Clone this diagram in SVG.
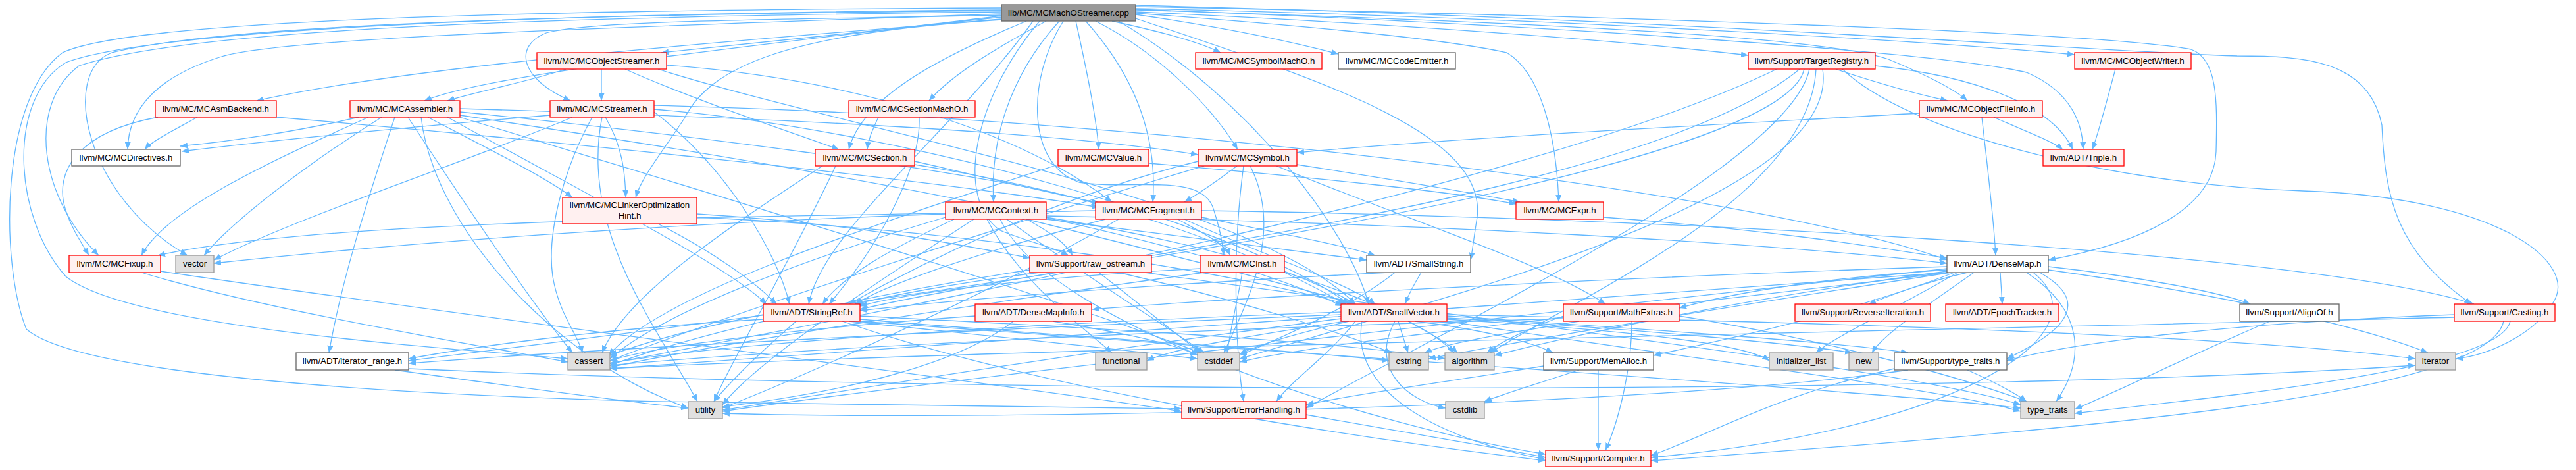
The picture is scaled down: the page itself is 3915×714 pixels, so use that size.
<svg xmlns="http://www.w3.org/2000/svg" width="3915" height="714" viewBox="0 0 3915 714">
<defs>
<marker id="a" markerUnits="userSpaceOnUse" markerWidth="11" markerHeight="9" refX="11" refY="4.5" orient="auto"><path d="M0,0 L11,4.5 L0,9 z" fill="#63b8ff"/></marker>
<style>
.e path{fill:none;stroke:#63b8ff;stroke-width:1.3;marker-end:url(#a)}
.n rect{stroke-width:1.3}
.r rect{fill:#fff0f0;stroke:#ff0000}
.g rect{fill:#e0e0e0;stroke:#999999}
.w rect{fill:#ffffff;stroke:#666666}
.m rect{fill:#999999;stroke:#666666}
.n text{font-family:"Liberation Sans",Arial,Helvetica,sans-serif;font-size:13.3px;text-anchor:middle;fill:#000000}
</style>
</defs>
<rect width="3915" height="714" fill="#ffffff"/>
<g id="edges" class="e">
<!-- main -->
<path d="M1522,26 C1350,45 1150,65 1005,80"/>
<path d="M1522,29 C1150,60 650,95 390,153"/>
<path d="M1522,24 C1150,70 750,110 645,153"/>
<path d="M1522,21 C1000,40 450,55 340,85 C240,115 195,165 194,227"/>
<path d="M1522,18 C900,25 300,40 120,100 C40,160 60,300 150,388"/>
<path d="M1522,16 C900,22 350,35 170,80 C90,110 130,300 285,388"/>
<path d="M1522,15 C900,20 250,40 100,95 C10,150 20,330 100,420 C200,500 700,530 863,545"/>
<path d="M1522,12 C800,15 200,30 95,80 C0,150 0,400 40,500 C120,570 600,600 1000,610 C1400,615 1700,618 1796,621"/>
<path d="M1590,32 C1520,70 1450,110 1412,153"/>
<path d="M1610,32 C1530,120 1505,220 1510,307"/>
<path d="M1635,32 C1650,100 1665,170 1670,227"/>
<path d="M1650,32 C1720,110 1760,200 1752,307"/>
<path d="M1665,32 C1760,80 1840,160 1881,227"/>
<path d="M1690,32 C1750,45 1820,62 1855,80"/>
<path d="M1560,32 C1420,90 1310,150 1290,227"/>
<path d="M1522,30 C1200,50 1080,100 1040,180 C1000,240 975,270 966,300"/>
<path d="M1616,32 C1560,120 1560,250 1640,277 C1720,290 1830,260 1845,320 C1855,350 1858,370 1860,388"/>
<path d="M1580,32 C1480,150 1450,300 1520,350 C1570,370 1600,375 1624,388"/>
<path d="M1726,20 C2000,40 2200,60 2290,80 C2340,110 2365,200 2369,307"/>
<path d="M1726,22 C1850,40 1950,60 2034,82"/>
<path d="M1726,18 C2100,35 2450,60 2657,84"/>
<path d="M1726,15 C2200,30 2750,50 2870,90 C2930,115 2970,135 2990,153"/>
<path d="M1726,13 C2300,25 2900,60 3153,83"/>
<path d="M1726,14 C2400,40 2950,80 3080,110 C3150,140 3165,190 3166,227"/>
<path d="M1726,10 C2500,25 3200,50 3330,75 C3370,90 3370,150 3368,230 C3365,320 3250,370 3113,395"/>
<path d="M1726,8 C2600,30 3200,80 3400,85 C3500,85 3600,90 3620,190 C3625,300 3640,380 3756,462"/>
<path d="M1700,32 C1900,150 2050,350 2080,462"/>
<path d="M1726,28 C2000,120 2260,200 2245,330 C2240,360 2238,380 2235,395"/>
<path d="M1570,32 C1450,200 1250,350 1229,462"/>
<path d="M1522,23 C1200,30 900,30 830,50 C780,70 790,120 867,153"/>
<!-- MCObjectStreamer -->
<path d="M860,105 C800,125 720,140 680,153"/>
<path d="M914,105 L914,153"/>
<path d="M950,105 C1050,150 1200,200 1275,227"/>
<path d="M1013,99 C1300,120 1550,200 1690,307"/>
<path d="M1000,105 C1300,200 1900,300 2060,462"/>
<!-- MCStreamer -->
<path d="M836,175 C600,195 400,215 276,230"/>
<path d="M920,178 C945,220 950,260 951,300"/>
<path d="M870,178 C700,250 450,330 325,395"/>
<path d="M900,178 C860,250 830,350 840,420 C850,480 880,510 885,536"/>
<path d="M915,178 C880,350 1000,500 1060,610"/>
<path d="M994,170 C1100,250 1180,380 1200,462"/>
<path d="M994,166 C1400,200 1900,350 2050,462"/>
<path d="M994,160 C1800,180 2700,300 2959,395"/>
<!-- MCAssembler -->
<path d="M545,178 C450,200 350,215 274,222"/>
<path d="M560,178 C400,250 250,320 215,388"/>
<path d="M580,178 C450,260 350,340 310,388"/>
<path d="M600,178 C560,300 520,420 500,536"/>
<path d="M650,178 C750,230 830,270 870,300"/>
<path d="M699,170 C1000,200 1500,260 1670,310"/>
<path d="M699,165 C1200,180 1600,200 1821,235"/>
<path d="M680,178 C900,300 1100,400 1165,462"/>
<path d="M699,175 C1200,250 1800,350 2040,465"/>
<path d="M620,178 C700,300 800,450 870,536"/>
<path d="M699,178 C1100,300 1600,450 1825,536"/>
<path d="M640,178 C660,350 850,550 1046,620"/>
<!-- MCAsmBackend -->
<path d="M300,178 C260,200 230,215 220,227"/>
<path d="M240,178 C120,200 80,260 100,320 C110,350 125,370 135,388"/>
<path d="M420,178 C800,210 1400,270 1670,315"/>
<!-- MCSectionMachO -->
<path d="M1335,178 C1325,200 1320,210 1318,227"/>
<path d="M1397,178 C1400,260 1330,380 1260,462"/>
<!-- MCSection -->
<path d="M1390,245 C1500,270 1600,295 1670,308"/>
<path d="M1390,250 C1700,300 1900,380 2045,462"/>
<path d="M1250,252 C1100,350 950,450 915,536"/>
<path d="M1270,252 C1200,400 1110,550 1085,610"/>
<!-- MCValue -->
<path d="M1746,248 C2000,270 2200,290 2304,310"/>
<path d="M1608,250 C1300,350 1000,450 925,540"/>
<!-- MCSymbol -->
<path d="M1880,252 C1850,275 1820,295 1800,307"/>
<path d="M1971,250 C2100,270 2220,290 2310,307"/>
<path d="M1821,245 C1600,300 1400,400 1290,462"/>
<path d="M1890,252 C1870,400 1880,550 1890,610"/>
<path d="M1940,252 C2100,320 2350,400 2440,462"/>
<path d="M1830,252 C1500,350 1100,480 927,548"/>
<path d="M1900,252 C1950,350 1900,450 1860,536"/>
<!-- MCObjectFileInfo -->
<path d="M3030,178 C3080,200 3120,215 3135,227"/>
<path d="M2917,172 C2600,190 2200,210 1971,232"/>
<path d="M3012,178 C3020,250 3030,330 3033,388"/>
<!-- TargetRegistry -->
<path d="M2790,105 C2850,125 2900,140 2960,153"/>
<path d="M2850,100 C3000,115 3120,160 3150,227"/>
<path d="M2735,105 C2500,300 1600,400 1307,470"/>
<path d="M2742,105 C2700,300 1000,500 621,548"/>
<path d="M2750,105 C2720,250 2200,500 1985,620"/>
<path d="M2760,105 C2750,300 2400,450 2265,536"/>
<path d="M2700,105 C2300,300 1200,500 927,552"/>
<path d="M2770,105 C2800,300 2200,450 1884,545"/>
<path d="M2800,105 C2900,200 3200,280 3500,290 C3800,300 3920,400 3880,460 C3850,510 3780,540 3732,545"/>
<!-- MCObjectWriter -->
<path d="M3215,105 C3200,160 3190,200 3180,227"/>
<!-- MCContext -->
<path d="M1590,328 C2200,340 2700,370 2959,400"/>
<path d="M1590,333 C1800,360 1950,380 2077,395"/>
<path d="M1560,333 C1750,380 1950,430 2060,462"/>
<path d="M1450,333 C1350,380 1280,420 1250,462"/>
<path d="M1520,333 C1600,500 2100,650 2349,690"/>
<path d="M1560,333 C1600,355 1620,370 1630,388"/>
<path d="M1590,330 C1900,380 2150,470 2210,536"/>
<path d="M1437,330 C1200,400 1000,480 927,545"/>
<path d="M1530,333 C1650,420 1780,500 1830,536"/>
<path d="M1500,333 C1550,430 1650,500 1690,536"/>
<path d="M1480,333 C1300,450 1150,550 1098,615"/>
<path d="M1437,325 C1000,340 600,370 325,400"/>
<!-- MCFragment -->
<path d="M1826,330 C1950,355 2050,375 2090,388"/>
<path d="M1800,333 C1900,380 2050,430 2090,462"/>
<path d="M1680,333 C1500,380 1350,430 1300,462"/>
<path d="M1665,320 C1200,330 500,330 240,388"/>
<path d="M1790,333 C1830,355 1860,370 1870,388"/>
<path d="M1826,320 C2500,330 3500,380 3760,462"/>
<path d="M1700,333 C1500,450 1200,580 1098,620"/>
<!-- MCExpr -->
<path d="M2437,330 C2700,350 2850,375 2959,392"/>
<!-- LinkerOptimizationHint -->
<path d="M1059,330 C1500,350 1900,420 2045,462"/>
<path d="M1059,325 C1300,340 1450,370 1565,392"/>
<path d="M1000,340 C1080,380 1150,430 1180,462"/>
<!-- MCFixup -->
<path d="M244,412 C700,480 1500,580 1796,625"/>
<path d="M215,414 C400,470 700,520 863,550"/>
<!-- raw_ostream -->
<path d="M1580,414 C1450,430 1350,450 1300,462"/>
<path d="M1565,410 C1300,450 1050,510 927,555"/>
<path d="M1670,414 C1730,460 1790,510 1825,536"/>
<path d="M1700,414 C1900,460 2050,510 2115,536"/>
<path d="M1740,414 C2200,480 2900,560 3071,615"/>
<!-- MCInst -->
<path d="M1952,412 C2000,430 2040,450 2060,462"/>
<path d="M1824,408 C1600,420 1400,440 1307,465"/>
<path d="M1830,414 C1500,460 1100,520 927,558"/>
<path d="M1888,414 C1880,460 1870,500 1865,536"/>
<!-- SmallString -->
<path d="M2160,414 C2150,430 2140,450 2135,462"/>
<path d="M2110,414 C1800,430 1500,450 1307,472"/>
<path d="M2120,414 C2050,470 1930,520 1884,540"/>
<!-- DenseMap -->
<path d="M2959,405 C2500,420 1900,450 1660,470"/>
<path d="M3040,414 L3043,462"/>
<path d="M2990,414 C2920,430 2870,450 2840,462"/>
<path d="M3113,405 C3250,420 3380,445 3420,462"/>
<path d="M2959,410 C2800,420 2650,440 2552,468"/>
<path d="M3090,414 C3200,500 3000,650 2509,695"/>
<path d="M2970,414 C2800,480 2600,520 2513,540"/>
<path d="M3100,414 C3200,470 3100,520 3050,545"/>
<path d="M2959,412 C2600,460 2350,520 2271,540"/>
<path d="M2960,414 C2400,460 1400,520 927,560"/>
<path d="M2962,414 C2500,470 2000,520 1884,550"/>
<path d="M2965,414 C2600,470 2300,520 2171,545"/>
<path d="M2975,414 C2880,470 2790,510 2760,536"/>
<path d="M3113,410 C3400,450 3600,500 3690,536"/>
<path d="M3000,414 C2920,470 2860,510 2845,536"/>
<path d="M3080,414 C3180,480 3160,560 3125,610"/>
<path d="M2960,408 C2300,480 1400,580 1098,625"/>
<!-- StringRef -->
<path d="M1160,485 C900,500 700,530 621,545"/>
<path d="M1280,488 C1600,600 2100,670 2349,700"/>
<path d="M1307,480 C1700,500 2050,520 2196,545"/>
<path d="M1160,478 C1050,500 980,520 927,540"/>
<path d="M1290,488 C1500,510 1700,530 1820,545"/>
<path d="M1307,485 C1600,510 1950,530 2111,548"/>
<path d="M1307,488 C2000,540 2800,590 3071,620"/>
<path d="M1210,488 C1150,540 1110,580 1085,610"/>
<!-- DenseMapInfo -->
<path d="M1482,480 C1200,500 1000,525 927,548"/>
<path d="M1600,488 C1700,505 1780,520 1820,540"/>
<path d="M1540,488 C1450,560 1250,600 1098,618"/>
<!-- SmallVector -->
<path d="M2038,478 C1500,500 900,530 621,552"/>
<path d="M2070,488 C2050,600 2200,670 2349,698"/>
<path d="M2060,488 C2020,540 1960,580 1940,610"/>
<path d="M2150,488 C2250,500 2330,520 2360,536"/>
<path d="M2199,480 C2500,500 2800,520 2900,536"/>
<path d="M2140,488 C2170,505 2200,520 2215,536"/>
<path d="M2038,474 C1600,490 1100,520 927,552"/>
<path d="M2050,488 C1980,505 1920,520 1884,538"/>
<path d="M2120,488 C2080,560 2140,610 2197,620"/>
<path d="M2125,488 C2130,505 2135,520 2140,536"/>
<path d="M2045,488 C1900,510 1780,530 1743,548"/>
<path d="M2199,485 C2450,500 2650,520 2689,548"/>
<path d="M2199,478 C2800,490 3400,510 3671,545"/>
<path d="M2199,483 C2500,500 2750,525 2815,536"/>
<path d="M2199,488 C2600,550 2950,590 3071,625"/>
<path d="M2038,484 C1600,540 1250,600 1098,623"/>
<!-- MathExtras -->
<path d="M2480,488 C2480,560 2460,640 2440,684"/>
<path d="M2376,480 C2320,500 2280,520 2260,536"/>
<path d="M2376,484 C1800,500 1200,530 927,555"/>
<path d="M2400,488 C2300,505 2200,520 2165,536"/>
<path d="M2552,480 C2800,520 3000,580 3080,610"/>
<!-- AlignOf -->
<path d="M3450,488 C3350,530 3250,580 3153,622"/>
<!-- Casting -->
<path d="M3730,478 C3400,490 3150,520 3050,548"/>
<path d="M3730,482 C3000,500 1500,530 927,560"/>
<path d="M3805,488 C3780,600 3200,650 2509,700"/>
<path d="M3815,488 C3800,560 3400,600 3153,628"/>
<!-- iterator_range -->
<path d="M621,560 C1500,600 3000,600 3671,555"/>
<path d="M600,562 C800,590 950,610 1046,620"/>
<!-- MemAlloc -->
<path d="M2429,562 L2429,684"/>
<path d="M2346,556 C2200,580 2050,600 1985,615"/>
<path d="M2400,562 C2330,585 2280,600 2256,610"/>
<!-- type_traits.h -->
<path d="M2990,562 C3030,580 3060,595 3080,610"/>
<path d="M2879,560 C2700,600 2600,660 2509,692"/>
<path d="M2900,562 C2500,620 1500,640 1098,628"/>
<!-- ErrorHandling -->
<path d="M1985,630 C2150,660 2280,680 2349,695"/>
</g>
<g id="n_main" class="n m"><rect x="1522" y="7" width="204" height="25"/><text x="1624" y="24">lib/MC/MCMachOStreamer.cpp</text></g>
<g id="n_objstreamer" class="n r"><rect x="816" y="80" width="197" height="25"/><text x="914.5" y="97">llvm/MC/MCObjectStreamer.h</text></g>
<g id="n_symmacho" class="n r"><rect x="1817" y="80" width="192" height="25"/><text x="1913" y="97">llvm/MC/MCSymbolMachO.h</text></g>
<g id="n_codeemitter" class="n w"><rect x="2034" y="80" width="178" height="25"/><text x="2123" y="97">llvm/MC/MCCodeEmitter.h</text></g>
<g id="n_targetreg" class="n r"><rect x="2657" y="80" width="193" height="25"/><text x="2753.5" y="97">llvm/Support/TargetRegistry.h</text></g>
<g id="n_objwriter" class="n r"><rect x="3153" y="80" width="177" height="25"/><text x="3241.5" y="97">llvm/MC/MCObjectWriter.h</text></g>
<g id="n_asmbackend" class="n r"><rect x="236" y="153" width="184" height="25"/><text x="328" y="170">llvm/MC/MCAsmBackend.h</text></g>
<g id="n_assembler" class="n r"><rect x="532" y="153" width="167" height="25"/><text x="615.5" y="170">llvm/MC/MCAssembler.h</text></g>
<g id="n_streamer" class="n r"><rect x="836" y="153" width="158" height="25"/><text x="915" y="170">llvm/MC/MCStreamer.h</text></g>
<g id="n_secmacho" class="n r"><rect x="1290" y="153" width="192" height="25"/><text x="1386" y="170">llvm/MC/MCSectionMachO.h</text></g>
<g id="n_objfileinfo" class="n r"><rect x="2917" y="153" width="187" height="25"/><text x="3010.5" y="170">llvm/MC/MCObjectFileInfo.h</text></g>
<g id="n_directives" class="n w"><rect x="109" y="227" width="165" height="25"/><text x="191.5" y="244">llvm/MC/MCDirectives.h</text></g>
<g id="n_section" class="n r"><rect x="1239" y="227" width="151" height="25"/><text x="1314.5" y="244">llvm/MC/MCSection.h</text></g>
<g id="n_value" class="n r"><rect x="1608" y="227" width="138" height="25"/><text x="1677" y="244">llvm/MC/MCValue.h</text></g>
<g id="n_symbol" class="n r"><rect x="1821" y="227" width="150" height="25"/><text x="1896" y="244">llvm/MC/MCSymbol.h</text></g>
<g id="n_triple" class="n r"><rect x="3105" y="227" width="123" height="25"/><text x="3166.5" y="244">llvm/ADT/Triple.h</text></g>
<g id="n_loh" class="n r"><rect x="855" y="300" width="204" height="40"/><text x="957" y="316">llvm/MC/MCLinkerOptimization</text><text x="957" y="332">Hint.h</text></g>
<g id="n_context" class="n r"><rect x="1437" y="307" width="153" height="26"/><text x="1513.5" y="324">llvm/MC/MCContext.h</text></g>
<g id="n_fragment" class="n r"><rect x="1665" y="307" width="161" height="26"/><text x="1745.5" y="324">llvm/MC/MCFragment.h</text></g>
<g id="n_expr" class="n r"><rect x="2304" y="307" width="133" height="26"/><text x="2370.5" y="324">llvm/MC/MCExpr.h</text></g>
<g id="n_fixup" class="n r"><rect x="105" y="388" width="139" height="26"/><text x="174.5" y="405">llvm/MC/MCFixup.h</text></g>
<g id="n_vector" class="n g"><rect x="267" y="388" width="58" height="26"/><text x="296" y="405">vector</text></g>
<g id="n_rawostream" class="n r"><rect x="1565" y="388" width="185" height="26"/><text x="1657.5" y="405">llvm/Support/raw_ostream.h</text></g>
<g id="n_inst" class="n r"><rect x="1824" y="388" width="128" height="26"/><text x="1888" y="405">llvm/MC/MCInst.h</text></g>
<g id="n_smallstring" class="n w"><rect x="2077" y="388" width="158" height="26"/><text x="2156" y="405">llvm/ADT/SmallString.h</text></g>
<g id="n_densemap" class="n w"><rect x="2959" y="388" width="154" height="26"/><text x="3036" y="405">llvm/ADT/DenseMap.h</text></g>
<g id="n_stringref" class="n r"><rect x="1160" y="462" width="147" height="26"/><text x="1233.5" y="479">llvm/ADT/StringRef.h</text></g>
<g id="n_densemapinfo" class="n r"><rect x="1482" y="462" width="177" height="26"/><text x="1570.5" y="479">llvm/ADT/DenseMapInfo.h</text></g>
<g id="n_smallvector" class="n r"><rect x="2038" y="462" width="161" height="26"/><text x="2118.5" y="479">llvm/ADT/SmallVector.h</text></g>
<g id="n_mathextras" class="n r"><rect x="2376" y="462" width="176" height="26"/><text x="2464" y="479">llvm/Support/MathExtras.h</text></g>
<g id="n_reverseiter" class="n r"><rect x="2728" y="462" width="206" height="26"/><text x="2831" y="479">llvm/Support/ReverseIteration.h</text></g>
<g id="n_epoch" class="n r"><rect x="2957" y="462" width="172" height="26"/><text x="3043" y="479">llvm/ADT/EpochTracker.h</text></g>
<g id="n_alignof" class="n w"><rect x="3404" y="462" width="151" height="26"/><text x="3479.5" y="479">llvm/Support/AlignOf.h</text></g>
<g id="n_casting" class="n r"><rect x="3730" y="462" width="153" height="26"/><text x="3806.5" y="479">llvm/Support/Casting.h</text></g>
<g id="n_iterrange" class="n w"><rect x="450" y="536" width="171" height="26"/><text x="535.5" y="553">llvm/ADT/iterator_range.h</text></g>
<g id="n_cassert" class="n g"><rect x="863" y="536" width="64" height="26"/><text x="895" y="553">cassert</text></g>
<g id="n_functional" class="n g"><rect x="1665" y="536" width="78" height="26"/><text x="1704" y="553">functional</text></g>
<g id="n_cstddef" class="n g"><rect x="1820" y="536" width="64" height="26"/><text x="1852" y="553">cstddef</text></g>
<g id="n_cstring" class="n g"><rect x="2111" y="536" width="60" height="26"/><text x="2141" y="553">cstring</text></g>
<g id="n_algorithm" class="n g"><rect x="2196" y="536" width="75" height="26"/><text x="2233.5" y="553">algorithm</text></g>
<g id="n_memalloc" class="n w"><rect x="2346" y="536" width="167" height="26"/><text x="2429.5" y="553">llvm/Support/MemAlloc.h</text></g>
<g id="n_initlist" class="n g"><rect x="2689" y="536" width="97" height="26"/><text x="2737.5" y="553">initializer_list</text></g>
<g id="n_new" class="n g"><rect x="2810" y="536" width="45" height="26"/><text x="2832.5" y="553">new</text></g>
<g id="n_typetraitsh" class="n w"><rect x="2879" y="536" width="171" height="26"/><text x="2964.5" y="553">llvm/Support/type_traits.h</text></g>
<g id="n_iterator" class="n g"><rect x="3671" y="536" width="61" height="26"/><text x="3701.5" y="553">iterator</text></g>
<g id="n_utility" class="n g"><rect x="1046" y="610" width="52" height="26"/><text x="1072" y="627">utility</text></g>
<g id="n_errorhandling" class="n r"><rect x="1796" y="610" width="189" height="26"/><text x="1890.5" y="627">llvm/Support/ErrorHandling.h</text></g>
<g id="n_cstdlib" class="n g"><rect x="2197" y="610" width="59" height="26"/><text x="2226.5" y="627">cstdlib</text></g>
<g id="n_typetraits" class="n g"><rect x="3071" y="610" width="82" height="26"/><text x="3112" y="627">type_traits</text></g>
<g id="n_compiler" class="n r"><rect x="2349" y="684" width="160" height="25"/><text x="2429" y="701">llvm/Support/Compiler.h</text></g>
</svg>
